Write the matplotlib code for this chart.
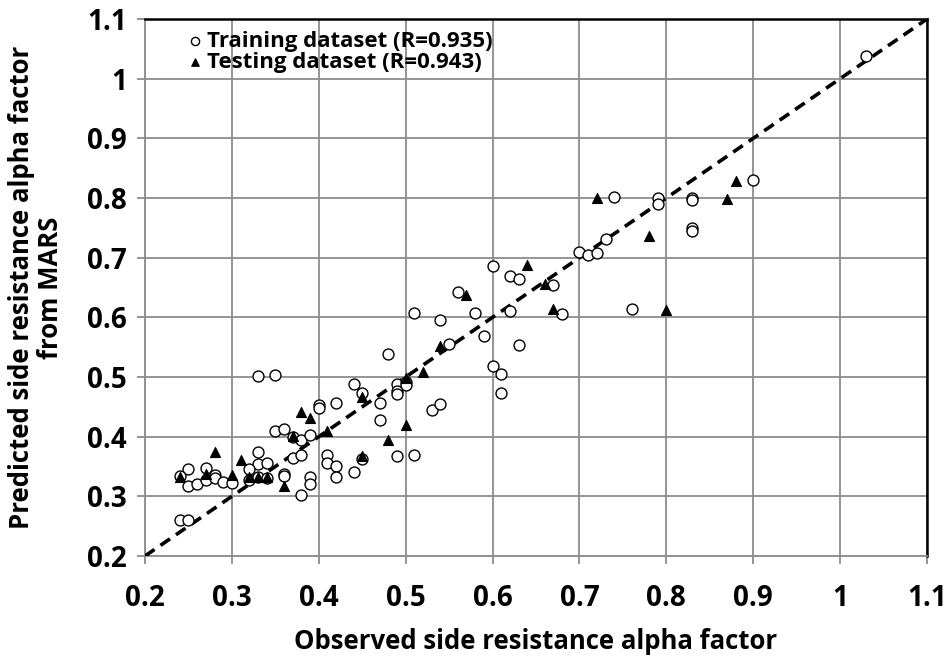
import matplotlib
matplotlib.use("Agg")
import matplotlib.pyplot as plt

plt.rcParams['font.family'] = ['Open Sans', 'DejaVu Sans']
plt.rcParams['font.weight'] = 'bold'

train_x = [0.33, 0.35, 0.40, 0.40, 0.42, 0.35, 0.36, 0.37, 0.38, 0.39,
           0.33, 0.37, 0.38, 0.33, 0.34, 0.32, 0.25, 0.24, 0.25, 0.26,
           0.27, 0.27, 0.28, 0.28, 0.29, 0.30, 0.32, 0.33, 0.34, 0.36,
           0.36, 0.39, 0.39, 0.38, 0.24, 0.25, 0.41, 0.41, 0.42, 0.42,
           0.48, 0.60, 0.61, 0.61, 0.44, 0.45, 0.49, 0.49, 0.49, 0.50,
           0.50, 0.47, 0.47, 0.53, 0.54, 0.44, 0.45, 0.49, 0.51, 0.70,
           0.71, 0.72, 0.60, 0.62, 0.63, 0.67, 0.62, 0.68, 0.76, 0.59,
           0.63, 0.83, 0.83, 0.83, 0.83, 0.90, 0.74, 0.79, 0.79, 0.73,
           0.56, 0.58, 0.54, 0.55, 0.51, 1.03]
train_y = [0.501, 0.503, 0.453, 0.448, 0.457, 0.409, 0.413, 0.399, 0.394, 0.403,
           0.375, 0.365, 0.370, 0.355, 0.356, 0.345, 0.345, 0.334, 0.317, 0.320,
           0.347, 0.327, 0.335, 0.330, 0.324, 0.322, 0.328, 0.332, 0.330, 0.338,
           0.334, 0.332, 0.320, 0.303, 0.261, 0.261, 0.370, 0.356, 0.350, 0.332,
           0.538, 0.518, 0.505, 0.474, 0.489, 0.474, 0.489, 0.477, 0.472, 0.491,
           0.487, 0.456, 0.428, 0.445, 0.454, 0.340, 0.362, 0.367, 0.370, 0.710,
           0.704, 0.708, 0.686, 0.669, 0.665, 0.654, 0.610, 0.606, 0.614, 0.568,
           0.553, 0.800, 0.796, 0.750, 0.745, 0.830, 0.801, 0.800, 0.790, 0.731,
           0.643, 0.608, 0.595, 0.555, 0.607, 1.038]

test_x = [0.38, 0.39, 0.41, 0.37, 0.28, 0.31, 0.24, 0.27, 0.30, 0.32,
          0.33, 0.34, 0.36, 0.45, 0.50, 0.52, 0.50, 0.48, 0.54, 0.45,
          0.64, 0.66, 0.67, 0.80, 0.57, 0.72, 0.78, 0.88, 0.87]
test_y = [0.442, 0.431, 0.410, 0.401, 0.374, 0.361, 0.332, 0.338, 0.336, 0.332,
          0.332, 0.332, 0.317, 0.466, 0.499, 0.508, 0.420, 0.395, 0.552, 0.368,
          0.687, 0.656, 0.614, 0.612, 0.637, 0.800, 0.736, 0.828, 0.798]

ticks = [0.2, 0.3, 0.4, 0.5, 0.6, 0.7, 0.8, 0.9, 1.0, 1.1]
tick_labels = ["0.2", "0.3", "0.4", "0.5", "0.6", "0.7", "0.8", "0.9", "1", "1.1"]
line_ends = [0.2, 1.1]

fig = plt.figure(figsize=(9.49, 6.59), dpi=100)
ax = fig.add_axes([145/949, 1-556/659, (927-145)/949, (556-19)/659])

grid_c = '#8c8c8c'
ax.set_xlim(0.2, 1.1)
ax.set_ylim(0.2, 1.1)
ax.set_xticks(ticks)
ax.set_yticks(ticks)
ax.set_xticklabels(tick_labels, fontsize=20, fontweight='bold')
ax.set_yticklabels(tick_labels, fontsize=20, fontweight='bold')
ax.grid(True, color=grid_c, lw=1.3)
ax.set_axisbelow(True)
ax.tick_params(direction='out', length=6, width=1.3, color=grid_c)
ax.tick_params(axis='x', pad=14)
ax.tick_params(axis='y', pad=7)
for s in ['left', 'bottom']:
    ax.spines[s].set_color(grid_c)
    ax.spines[s].set_linewidth(1.3)
for s in ['top', 'right']:
    ax.spines[s].set_color('black')
    ax.spines[s].set_linewidth(1.8)

ax.plot(line_ends, line_ends, color='black', lw=2.6, linestyle=(0, (3.2, 2.0)), zorder=3)
ax.scatter(train_x, train_y, s=62, marker='o', facecolors='white', edgecolors='black',
           linewidths=1.0, zorder=4, label='Training dataset (R=0.935)')
ax.scatter(test_x, test_y, s=52, marker='^', facecolors='black', edgecolors='black',
           linewidths=0.8, zorder=5, label='Testing dataset (R=0.943)')

leg = ax.legend(loc='upper left', bbox_to_anchor=(0.035, 1.0), frameon=False,
                prop={'size': 16, 'weight': 'bold'}, handletextpad=0.1,
                markerscale=0.75, borderaxespad=0.15, labelspacing=0.0, handlelength=0.9)

ax.set_xlabel('Observed side resistance alpha factor', fontsize=18.5, fontweight='bold', labelpad=11)
ax.set_ylabel('Predicted side resistance alpha factor\nfrom MARS', fontsize=18.5,
              fontweight='bold', linespacing=1.1)
ax.yaxis.set_label_coords(-0.104, 0.5)

fig.savefig('out.png', dpi=100)
